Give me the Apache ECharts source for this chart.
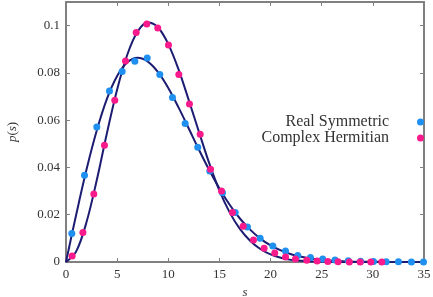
<!DOCTYPE html>
<html>
<head>
<meta charset="utf-8">
<script src="https://cdn.jsdelivr.net/npm/echarts@6/dist/echarts.min.js"></script>
<style>
html,body{margin:0;padding:0;background:#fff;}
#chart{width:433px;height:297px;}
</style>
</head>
<body>
<div id="chart"></div>
<script>
const curveS = [0,1,2,3,4,5,6,7,8,9,10,11,12,13,14,15,16,17,18,19,20,21,22,23,24,25,26,27,28,29,30,31,32,33,34,35];
const realSymCurve = [0,0.0201,0.0390,0.0555,0.0690,0.0787,0.0845,0.0864,0.0848,0.0803,0.0736,0.0654,0.0565,0.0475,0.0389,0.0311,0.0242,0.0184,0.0137,0.0099,0.0070,0.0049,0.0033,0.0022,0.0014,0.0009,0.00056,0.00034,0.0002,0.00012,0.00007,0.00004,0.00002,0.00001,0,0];
const complexHermCurve = [0,0.0045,0.0168,0.0345,0.0545,0.0730,0.0878,0.0975,0.1013,0.0992,0.0922,0.0815,0.0685,0.0550,0.0418,0.0302,0.0210,0.0140,0.0090,0.0055,0.0032,0.0018,0.0009,0.0005,0.0002,0.0001,0.00004,0.00002,0,0,0,0,0,0,0,0];

const realSymS = [0.57,1.81,3.01,4.25,5.49,6.73,7.94,9.17,10.41,11.65,12.88,14.06,15.3,16.54,17.74,18.98,20.22,21.46,22.66,23.9,25.1,26.3,27.6,28.8,30.06,31.3,32.5,33.77,34.95];
const realSymP = [0.0121,0.0367,0.0571,0.0723,0.0806,0.0849,0.0863,0.0793,0.0696,0.0586,0.0485,0.0385,0.0293,0.0209,0.0148,0.0101,0.0068,0.0047,0.0028,0.0019,0.0013,0.0008,0.0005,0.0003,0.0002,0.0001,0.0001,0,0];

const complexHermS = [0.6,1.65,2.72,3.76,4.77,5.82,6.86,7.9,8.97,10.02,11.03,12.07,13.12,14.13,15.2,16.28,17.32,18.33,19.37,20.41,21.46,22.43,23.54,24.55,25.6,26.6,27.7,28.76,29.8,30.87];
const complexHermP = [0.0025,0.0125,0.0288,0.0494,0.0684,0.0850,0.0971,0.1007,0.0990,0.0918,0.0793,0.0668,0.0541,0.0392,0.0300,0.0209,0.0151,0.0093,0.0058,0.0038,0.0021,0.0013,0.0007,0.0004,0.0002,0.0001,0,0,0,0];

const xTicks = {min:0, max:35, interval:5};
const yTicks = {min:0, max:0.11, interval:0.02};

const FONT = '"Liberation Serif", "DejaVu Serif", serif';
const FRAME = '#808080';
const CURVE = '#1c1c72';
const BLUE = '#1f90f0';
const PINK = '#fb1a8c';

const zip = (a, b) => a.map((v, i) => [v, b[i]]);

const chart = echarts.init(document.getElementById('chart'), null, {renderer:'canvas'});

const axisCommon = {
  type: 'value',
  axisLine: {show: true, onZero: false, lineStyle: {color: FRAME, width: 2}},
  axisTick: {show: true, inside: true, length: 4, lineStyle: {color: FRAME, width: 1}},
  splitLine: {show: false}
};

chart.setOption({
  animation: false,
  backgroundColor: '#fff',
  grid: {left: 66, right: 9, top: 2, bottom: 35, containLabel: false, outerBoundsMode: 'none'},
  xAxis: [
    Object.assign({}, axisCommon, xTicks, {
      position: 'bottom',
      axisLabel: {color: '#333', fontFamily: FONT, fontSize: 13, margin: 6},
      name: 's', nameLocation: 'middle', nameGap: 24,
      nameTextStyle: {fontFamily: FONT, fontSize: 13, fontStyle: 'italic', color: '#333'}
    }),
    Object.assign({}, axisCommon, xTicks, {
      position: 'top',
      axisLabel: {show: false}
    })
  ],
  yAxis: [
    Object.assign({}, axisCommon, yTicks, {
      position: 'left',
      axisLabel: {color: '#333', fontFamily: FONT, fontSize: 13, margin: 6, showMaxLabel: false},
      name: '{i|p}({i|s})',
      nameLocation: 'middle', nameGap: 47, nameRotate: 90,
      nameTextStyle: {fontFamily: FONT, fontSize: 13, color: '#333',
        rich: {i: {fontFamily: FONT, fontSize: 13, fontStyle: 'italic', color: '#333'}}}
    }),
    Object.assign({}, axisCommon, yTicks, {
      position: 'right',
      axisLabel: {show: false}
    })
  ],
  legend: {
    orient: 'vertical',
    right: 9,
    top: 114,
    padding: 0,
    align: 'right',
    itemWidth: 7,
    itemHeight: 7,
    itemGap: 0,
    data: [
      {name: 'Real Symmetric', icon: 'circle', itemStyle: {color: BLUE}},
      {name: 'Complex Hermitian', icon: 'circle', itemStyle: {color: PINK}}
    ],
    textStyle: {fontFamily: FONT, fontSize: 16, color: '#333', width: 140, align: 'right',
      padding: [0, 23, 0, 0], lineHeight: 15}
  },
  series: [
    {
      name: 'GOE curve', type: 'line', xAxisIndex: 0, yAxisIndex: 0,
      data: zip(curveS, realSymCurve), smooth: 0.35, showSymbol: false,
      lineStyle: {color: CURVE, width: 2}, z: 2
    },
    {
      name: 'GUE curve', type: 'line', xAxisIndex: 0, yAxisIndex: 0,
      data: zip(curveS, complexHermCurve), smooth: 0.35, showSymbol: false,
      lineStyle: {color: CURVE, width: 2}, z: 2
    },
    {
      name: 'Real Symmetric', type: 'scatter', xAxisIndex: 0, yAxisIndex: 0,
      data: zip(realSymS, realSymP), symbol: 'circle', symbolSize: 7,
      itemStyle: {color: BLUE, opacity: 1}, z: 3
    },
    {
      name: 'Complex Hermitian', type: 'scatter', xAxisIndex: 0, yAxisIndex: 0,
      data: zip(complexHermS, complexHermP), symbol: 'circle', symbolSize: 7,
      itemStyle: {color: PINK, opacity: 1}, z: 4
    }
  ]
});
</script>
</body>
</html>
